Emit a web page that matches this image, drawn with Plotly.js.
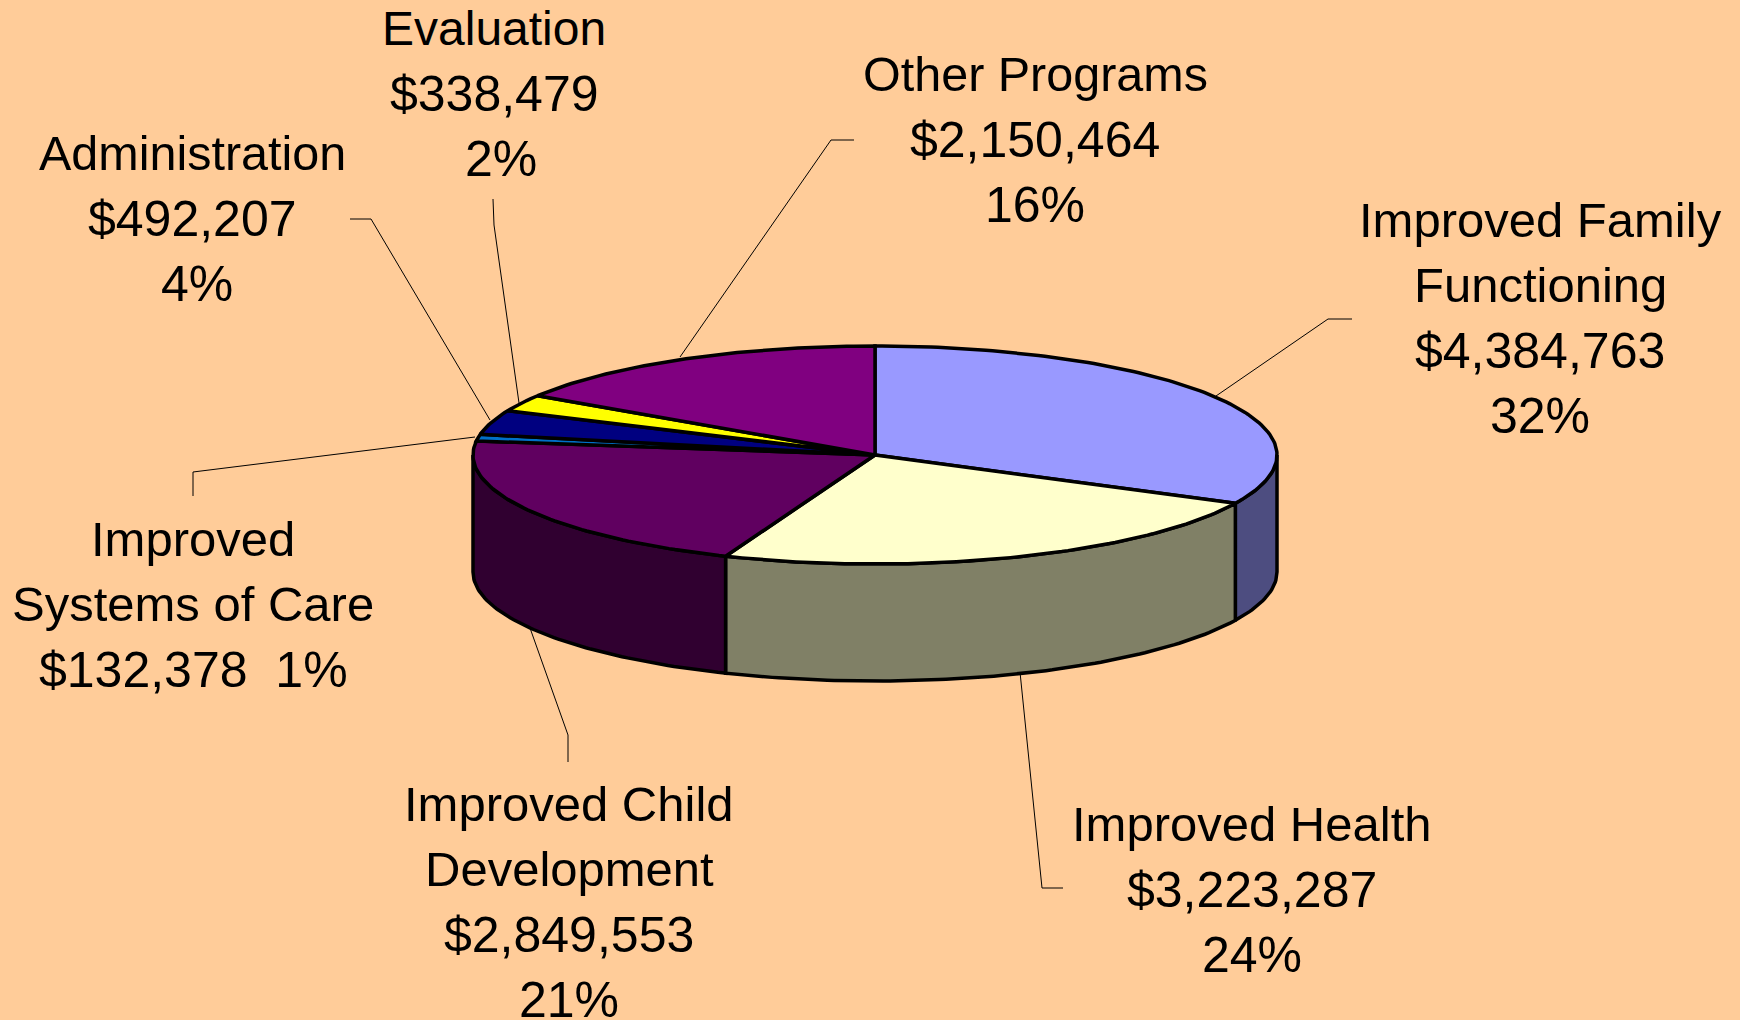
<!DOCTYPE html>
<html>
<head>
<meta charset="utf-8">
<script src="https://cdn.plot.ly/plotly-3.0.1.min.js"></script>
<style>html,body{margin:0;padding:0;background:#FFCC99;overflow:hidden}#chart{width:1740px;height:1020px}</style>
</head>
<body>
<div id="chart"></div>
<script>
// Data
var categories = ["Improved Family Functioning","Improved Health","Improved Child Development","Improved Systems of Care","Administration","Evaluation","Other Programs"];
var values = [4384763,3223287,2849553,132378,492207,338479,2150464];
var topColors = ["#9999FF","#FFFFCC","#600060","#0070C8","#000080","#FFFF00","#800080"];
var sideColors = ["#4D4D80","#808066","#300030","#003864","#000040","#808000","#400040"];
var labelLines = [
  ["Improved Family","Functioning","$4,384,763","32%"],
  ["Improved Health","$3,223,287","24%"],
  ["Improved Child","Development","$2,849,553","21%"],
  ["Improved","Systems of Care","$132,378  1%"],
  ["Administration","$492,207","4%"],
  ["Evaluation","$338,479","2%"],
  ["Other Programs","$2,150,464","16%"]
];
// Layout geometry
var cx=875, cy=455, rx=402, ry=109, depth=117;
var labelX = [1540,1252,569,193,192,494,1035];
var labelY = [220,824,804,539,153,28,74];
var percentShift = [0,0,0,0,5,7,0];
var textSize = [49,49,49,49,48.5,48,48.5];
var numberSize = 50;
var lineGap = 65;
var leaders = [
  [[1352,1328,1216],[319,319,396]],
  [[1063,1042,1020],[888,888,672]],
  [[568,568,530],[762,735,628]],
  [[193,193,475],[496,472,437]],
  [[350,371,490],[219,219,420]],
  [[493,494,519],[199,225,403]],
  [[854,831,680],[140,140,357]]
];

function pt(deg,dy){var t=deg*Math.PI/180;return [cx+rx*Math.sin(t),cy-ry*Math.cos(t)+(dy||0)];}
var total=values.reduce(function(a,b){return a+b;},0);
var traces=[], tops=[], a=0;
values.forEach(function(v,i){
  var a0=a, a1=a+v/total*360; a=a1;
  // side wall: only the near half (90..270 deg) is visible
  var s0=Math.max(a0,90), s1=Math.min(a1,270);
  if(s1>s0){
    var xs=[],ys=[],d,p;
    for(d=s0;d<s1;d+=1){p=pt(d,0);xs.push(p[0]);ys.push(p[1]);}
    p=pt(s1,0);xs.push(p[0]);ys.push(p[1]);
    for(d=s1;d>s0;d-=1){p=pt(d,depth);xs.push(p[0]);ys.push(p[1]);}
    p=pt(s0,depth);xs.push(p[0]);ys.push(p[1]);
    xs.push(xs[0]);ys.push(ys[0]);
    traces.push({x:xs,y:ys,mode:"lines",fill:"toself",fillcolor:sideColors[i],line:{color:"#000",width:3.5},hoverinfo:"skip",showlegend:false});
  }
  var tx=[cx],ty=[cy],q;
  for(var e=a0;e<a1;e+=1){q=pt(e,0);tx.push(q[0]);ty.push(q[1]);}
  q=pt(a1,0);tx.push(q[0]);ty.push(q[1]);
  tx.push(cx);ty.push(cy);
  tops.push({x:tx,y:ty,mode:"lines",name:categories[i],fill:"toself",fillcolor:topColors[i],line:{color:"#000",width:3.5},hoverinfo:"name",showlegend:false});
});
leaders.forEach(function(l){
  traces.push({x:l[0],y:l[1],mode:"lines",line:{color:"#000",width:1},hoverinfo:"skip",showlegend:false});
});
traces=traces.concat(tops);

var annotations=[];
labelLines.forEach(function(lines,i){
  lines.forEach(function(txt,j){
    var numeric=/\d/.test(txt);
    annotations.push({x:labelX[i]+(/^\d+%$/.test(txt)?percentShift[i]:0),y:labelY[i]+j*lineGap+(numeric?1:0),xref:"x",yref:"y",text:txt,showarrow:false,xanchor:"center",yanchor:"middle",
      font:{family:"Liberation Sans, Arial, sans-serif",size:numeric?numberSize:textSize[i],color:"#000"}});
  });
});

Plotly.newPlot("chart",traces,{
  width:1740,height:1020,
  margin:{l:0,r:0,t:0,b:0},
  paper_bgcolor:"#FFCC99",plot_bgcolor:"#FFCC99",
  xaxis:{range:[0,1740],visible:false,fixedrange:true},
  yaxis:{range:[1020,0],visible:false,fixedrange:true},
  annotations:annotations,showlegend:false
},{displayModeBar:false});
</script>
</body>
</html>
